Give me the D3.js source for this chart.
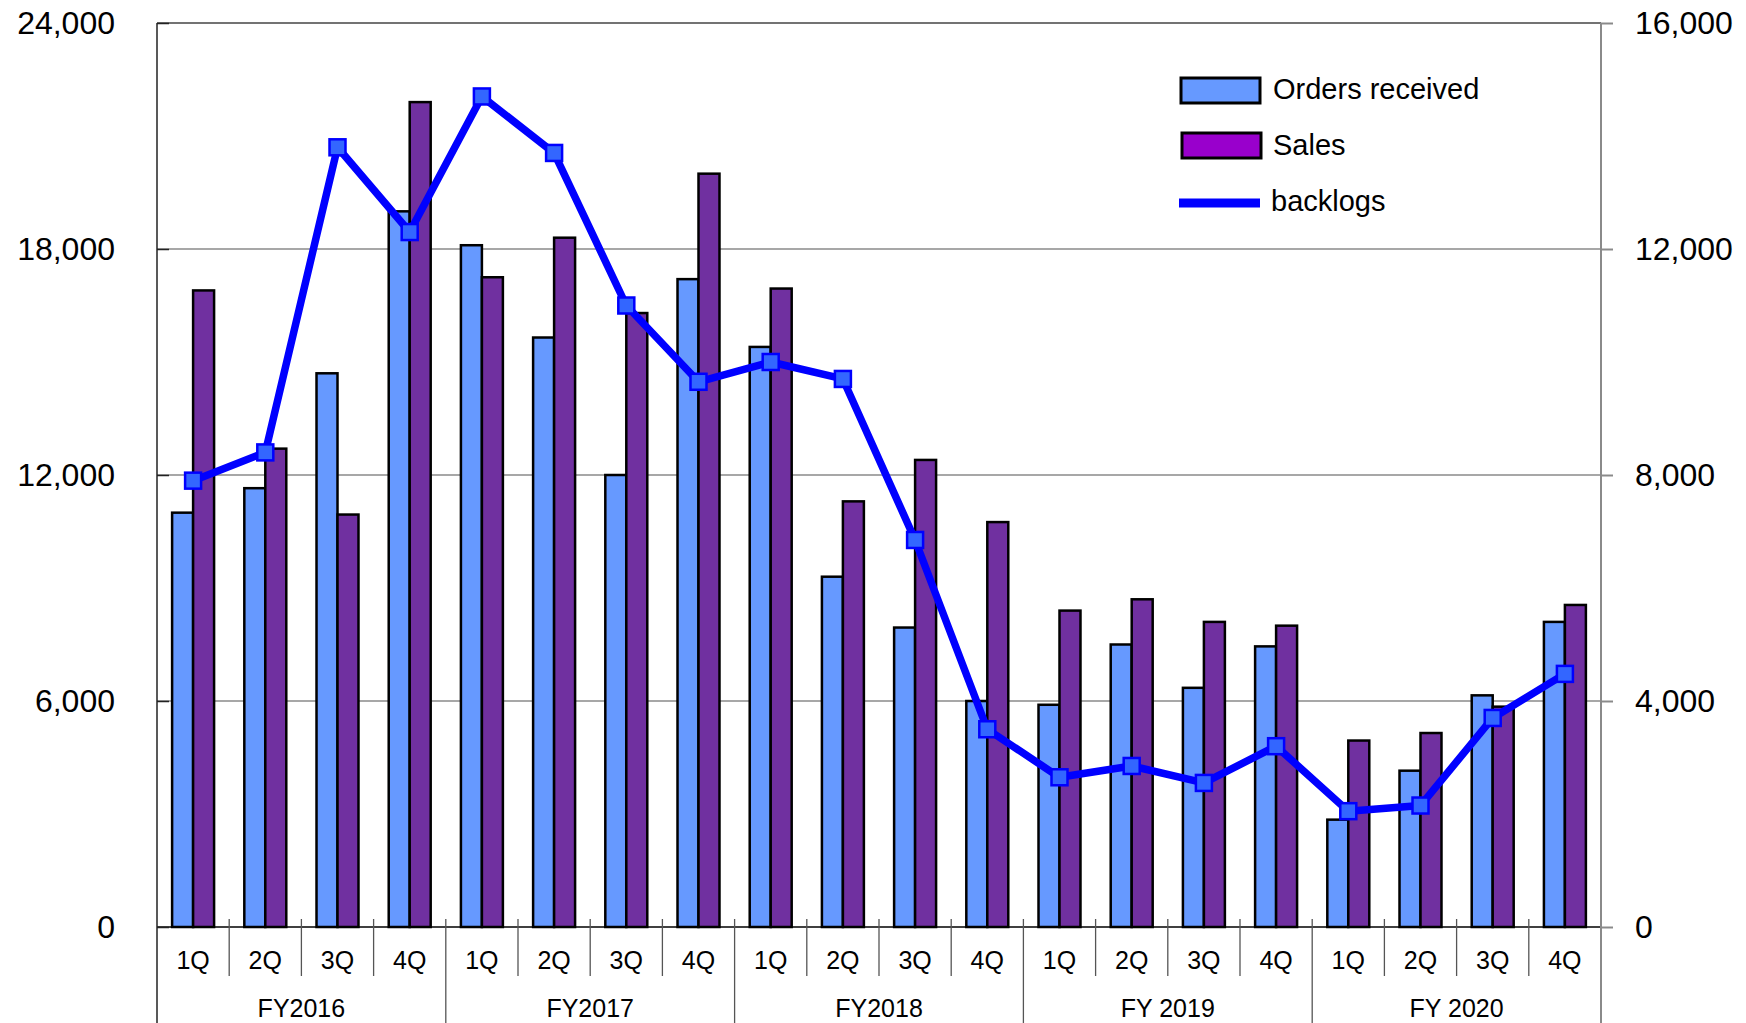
<!DOCTYPE html>
<html>
<head>
<meta charset="utf-8">
<script src="https://cdn.jsdelivr.net/npm/d3@7"></script>
<style>
  html, body { margin: 0; padding: 0; background: #fff; }
  svg { display: block; }
  text { font-family: "Liberation Sans", Arial, "DejaVu Sans", sans-serif; fill: #000; }
</style>
</head>
<body>
<svg id="chart" width="1746" height="1023"></svg>
<script>
const quarters = ["1Q","2Q","3Q","4Q","1Q","2Q","3Q","4Q","1Q","2Q","3Q","4Q","1Q","2Q","3Q","4Q","1Q","2Q","3Q","4Q"];
const fiscalYears = ["FY2016","FY2017","FY2018","FY 2019","FY 2020"];
const ordersReceived = [11000,11650,14700,19000, 18100,15650,12000,17200, 15400,9300,7950,6000, 5900,7500,6350,7450, 2850,4150,6150,8100];
const sales = [16900,12700,10950,21900, 17250,18300,16300,20000, 16950,11300,12400,10750, 8400,8700,8100,8000, 4950,5150,5850,8550];
const backlogs = [7900,8400,13800,12300, 14700,13700,11000,9650, 10000,9700,6850,3500, 2650,2850,2550,3200, 2050,2150,3700,4480];
const leftTicks = [0,6000,12000,18000,24000];
const rightTicks = [0,4000,8000,12000,16000];
const seriesNames = ["Orders received","Sales","backlogs"];

const svg = d3.select("#chart");
const L = 157, R = 1601, T = 23, B = 927, H = 1023;
const idx = d3.range(quarters.length);

const x = d3.scaleBand().domain(idx).range([L, R]).paddingInner(0).paddingOuter(0);
const xi = d3.scaleBand().domain(["orders","sales"]).range([0, x.bandwidth()]).paddingInner(0).paddingOuter(0.72);
const yL = d3.scaleLinear().domain([0, 24000]).range([B, T]);
const yR = d3.scaleLinear().domain([0, 16000]).range([B, T]);

// gridlines
svg.append("g").selectAll("line").data(leftTicks.filter(d => d > 0)).join("line")
  .attr("x1", L).attr("x2", R).attr("y1", d => yL(d)).attr("y2", d => yL(d))
  .attr("stroke", d => d === 24000 ? "#444" : "#8a8a8a").attr("stroke-width", 1.5);

// bars
const g = svg.append("g");
g.selectAll("rect.o").data(ordersReceived).join("rect").attr("class","o")
  .attr("x", (d,i) => x(i) + xi("orders")).attr("width", xi.bandwidth())
  .attr("y", d => yL(d)).attr("height", d => B - yL(d))
  .attr("fill", "#6699FF").attr("stroke", "#000").attr("stroke-width", 2.5);
g.selectAll("rect.s").data(sales).join("rect").attr("class","s")
  .attr("x", (d,i) => x(i) + xi("sales")).attr("width", xi.bandwidth())
  .attr("y", d => yL(d)).attr("height", d => B - yL(d))
  .attr("fill", "#7030A0").attr("stroke", "#000").attr("stroke-width", 2.5);

// baseline
svg.append("line").attr("x1", L).attr("x2", R).attr("y1", B).attr("y2", B)
  .attr("stroke", "#000").attr("stroke-width", 1.5);

// left axis
const axL = d3.axisLeft(yL).tickValues(leftTicks).tickFormat(d3.format(",")).tickSize(-12).tickPadding(42);
const gL = svg.append("g").attr("transform", `translate(${L},0)`).call(axL);
gL.select(".domain").remove();
gL.selectAll(".tick line").attr("stroke", "#222").attr("stroke-width", 1.5);
gL.selectAll(".tick text").style("font-size", "32px").attr("fill", "#000");
svg.append("line").attr("x1", L).attr("x2", L).attr("y1", T).attr("y2", H)
  .attr("stroke", "#222").attr("stroke-width", 1.5);

// right axis
const axR = d3.axisRight(yR).tickValues(rightTicks).tickFormat(d3.format(",")).tickSize(12).tickPadding(22);
const gR = svg.append("g").attr("transform", `translate(${R},0)`).call(axR);
gR.select(".domain").remove();
gR.selectAll(".tick line").attr("stroke", "#8a8a8a").attr("stroke-width", 2);
gR.selectAll(".tick text").style("font-size", "32px").attr("fill", "#000");
svg.append("line").attr("x1", R).attr("x2", R).attr("y1", T).attr("y2", H)
  .attr("stroke", "#8a8a8a").attr("stroke-width", 2);

// category separators
const sep = svg.append("g");
sep.selectAll("line").data(d3.range(1, quarters.length)).join("line")
  .attr("x1", d => x(d)).attr("x2", d => x(d))
  .attr("y1", 919).attr("y2", d => d % 4 === 0 ? H : 976)
  .attr("stroke", "#555").attr("stroke-width", 1.3);

// quarter labels
svg.append("g").selectAll("text").data(quarters).join("text")
  .attr("x", (d,i) => x(i) + x.bandwidth()/2).attr("y", 969)
  .attr("text-anchor", "middle").style("font-size", "25px").text(d => d);

// FY labels
svg.append("g").selectAll("text").data(fiscalYears).join("text")
  .attr("x", (d,i) => x(i*4) + x.bandwidth()*2).attr("y", 1016.5)
  .attr("text-anchor", "middle").style("font-size", "25px").text(d => d);

// backlog line
const line = d3.line().x((d,i) => x(i) + x.bandwidth()/2).y(d => yR(d));
svg.append("path").datum(backlogs).attr("d", line)
  .attr("fill", "none").attr("stroke", "#0000FF").attr("stroke-width", 7.5)
  .attr("stroke-linejoin", "round");
svg.append("g").selectAll("rect").data(backlogs).join("rect")
  .attr("x", (d,i) => x(i) + x.bandwidth()/2 - 8).attr("y", d => yR(d) - 8)
  .attr("width", 16).attr("height", 16)
  .attr("fill", "#3366FF").attr("stroke", "#0000FF").attr("stroke-width", 2.5);

// legend
const lg = svg.append("g");
lg.append("rect").attr("x", 1181).attr("y", 78).attr("width", 79).attr("height", 25)
  .attr("fill", "#6699FF").attr("stroke", "#000").attr("stroke-width", 3);
lg.append("rect").attr("x", 1182).attr("y", 133).attr("width", 79).attr("height", 25)
  .attr("fill", "#9900CC").attr("stroke", "#000").attr("stroke-width", 3);
lg.append("line").attr("x1", 1179).attr("x2", 1260).attr("y1", 203).attr("y2", 203)
  .attr("stroke", "#0000FF").attr("stroke-width", 9);
lg.selectAll("text").data(seriesNames).join("text")
  .attr("x", (d,i) => i === 2 ? 1271 : 1273).attr("y", (d,i) => [99, 155, 211][i])
  .style("font-size", "29px").text(d => d);
</script>
</body>
</html>
